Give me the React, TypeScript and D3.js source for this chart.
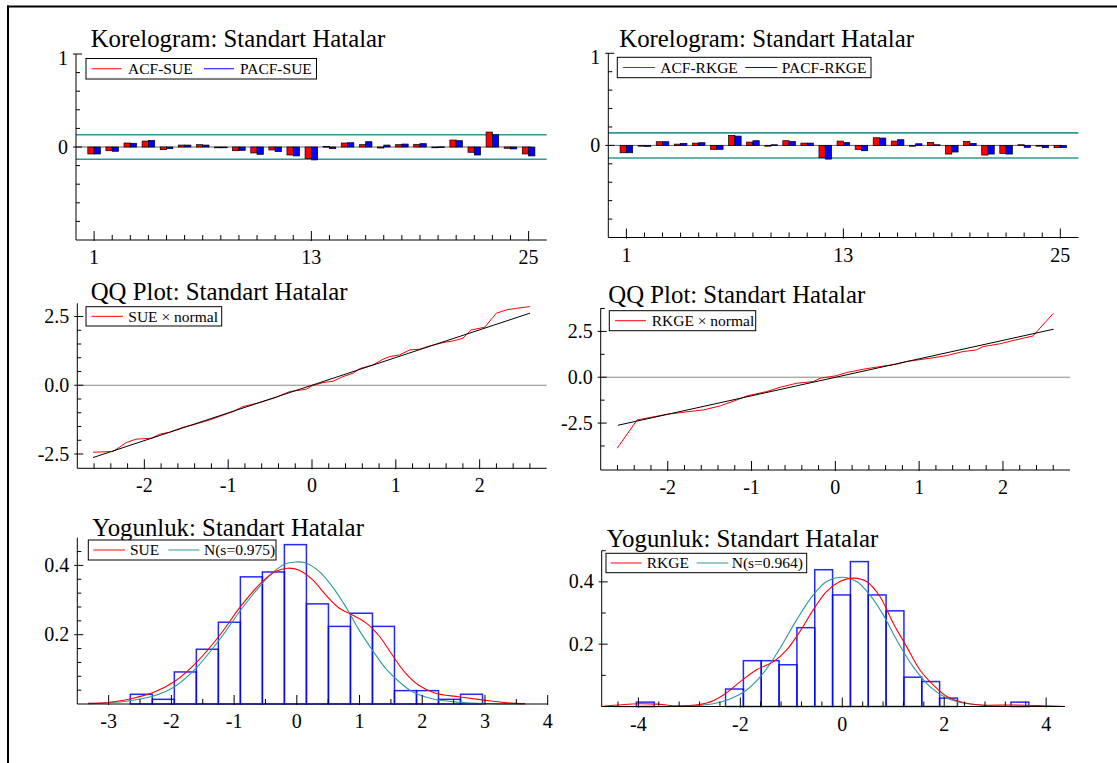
import React from "react";
import * as d3 from "d3";

// ---------- DATA ----------
const lags = [1, 2, 3, 4, 5, 6, 7, 8, 9, 10, 11, 12, 13, 14, 15, 16, 17, 18, 19, 20, 21, 22, 23, 24, 25];
const lagLabels = [1, 13, 25];

const acfSUE = [-0.075, -0.04, 0.043, 0.064, -0.029, 0.021, 0.025, -0.004, -0.04, -0.064, -0.032, -0.086, -0.125, 0.007, 0.043, 0.025, -0.011, 0.025, 0.029, 0.0, 0.075, -0.057, 0.161, -0.014, -0.075];
const pacfSUE = [-0.075, -0.046, 0.04, 0.071, -0.018, 0.021, 0.021, -0.004, -0.036, -0.079, -0.05, -0.096, -0.139, -0.018, 0.046, 0.057, 0.021, 0.032, 0.036, 0.002, 0.068, -0.086, 0.132, -0.021, -0.096];
const acfRKGE = [-0.08, -0.007, 0.04, 0.014, 0.025, -0.043, 0.109, 0.036, -0.007, 0.051, 0.025, -0.134, 0.047, -0.043, 0.083, 0.047, 0.0, 0.033, -0.094, 0.043, -0.105, -0.087, 0.007, -0.007, -0.025];
const pacfRKGE = [-0.08, -0.011, 0.04, 0.022, 0.029, -0.043, 0.101, 0.051, 0.007, 0.043, 0.025, -0.149, 0.033, -0.058, 0.08, 0.062, 0.018, 0.007, -0.072, 0.022, -0.094, -0.094, -0.022, -0.025, -0.025];
const bandSUE = 0.132;
const bandRKGE = 0.136;

const qqSUE: [number, number][] = [
  [-2.613, -2.436], [-2.375, -2.41], [-2.216, -2.085], [-2.1, -1.96], [-1.917, -1.927], [-1.818, -1.78],
  [-1.7, -1.71], [-1.54, -1.53], [-1.42, -1.44], [-1.22, -1.26], [-0.943, -0.958], [-0.823, -0.776],
  [-0.624, -0.63], [-0.426, -0.436], [-0.267, -0.23], [-0.068, -0.145], [0.0, -0.024], [0.131, 0.097],
  [0.25, 0.145], [0.37, 0.315], [0.489, 0.436], [0.569, 0.606], [0.728, 0.739], [0.847, 0.945],
  [0.927, 1.042], [1.046, 1.103], [1.165, 1.285], [1.285, 1.309], [1.404, 1.43], [1.563, 1.552],
  [1.683, 1.61], [1.8, 1.71], [1.9, 2.01], [2.06, 2.11], [2.2, 2.62], [2.32, 2.74], [2.44, 2.8], [2.6, 2.86],
];
const qqLineSUE: [number, number][] = [[-2.613, -2.63], [2.6, 2.62]];

const qqRKGE: [number, number][] = [
  [-2.603, -3.87], [-2.365, -2.33], [-2.008, -2.02], [-1.849, -1.93], [-1.571, -1.78], [-1.373, -1.56],
  [-1.175, -1.24], [-1.056, -1.02], [-0.817, -0.78], [-0.659, -0.545], [-0.46, -0.327], [-0.262, -0.236],
  [-0.183, -0.055], [0.0, 0.073], [0.135, 0.255], [0.333, 0.436], [0.532, 0.58], [0.73, 0.71],
  [0.849, 0.855], [1.127, 1.036], [1.325, 1.18], [1.524, 1.4], [1.683, 1.49], [1.762, 1.67],
  [1.96, 1.82], [2.119, 2.0], [2.357, 2.25], [2.603, 3.49],
];
const qqLineRKGE: [number, number][] = [[-2.595, -2.62], [2.604, 2.62]];

const histSUEStart = -2.655;
const histSUEWidth = 0.351;
const histSUE = [0.028, 0.0135, 0.0925, 0.158, 0.236, 0.367, 0.381, 0.46, 0.289, 0.224, 0.262, 0.224, 0.0386, 0.0386, 0.0135, 0.028];

const histRKGEStart = -4.04;
const histRKGEWidth = 0.35;
const histRKGE = [0.014, 0, 0, 0, 0, 0.056, 0.147, 0.147, 0.134, 0.253, 0.439, 0.358, 0.465, 0.358, 0.307, 0.094, 0.08, 0.027, 0, 0, 0, 0.014];

const densSUE: [number, number][] = [
  [-3.33, 0.002], [-2.98, 0.005], [-2.56, 0.019], [-2.29, 0.033], [-1.95, 0.065], [-1.61, 0.118],
  [-1.235, 0.197], [-0.89, 0.283], [-0.546, 0.354], [-0.334, 0.383], [-0.148, 0.392], [0.037, 0.386],
  [0.249, 0.359], [0.461, 0.315], [0.673, 0.277], [0.885, 0.257], [1.097, 0.235], [1.31, 0.197],
  [1.52, 0.142], [1.733, 0.089], [1.945, 0.054], [2.21, 0.031], [2.58, 0.021], [2.95, 0.012],
  [3.32, 0.004], [3.64, 0.001],
];
const normSUE: [number, number][] = [
  [-3.33, 0.001], [-2.72, 0.008], [-2.29, 0.023], [-1.95, 0.05], [-1.61, 0.103], [-1.235, 0.185],
  [-0.89, 0.272], [-0.546, 0.349], [-0.334, 0.387], [-0.175, 0.405], [-0.016, 0.41], [0.143, 0.407],
  [0.355, 0.383], [0.567, 0.339], [0.779, 0.281], [0.991, 0.214], [1.203, 0.156], [1.415, 0.103],
  [1.627, 0.065], [1.839, 0.036], [2.157, 0.015], [2.58, 0.005], [3.11, 0.001], [3.64, 0.0],
];

const densRKGE: [number, number][] = [
  [-4.72, 0.0], [-4.0, 0.0086], [-3.64, 0.0075], [-3.18, 0.002], [-2.66, 0.011], [-2.33, 0.037],
  [-2.0, 0.08], [-1.68, 0.118], [-1.35, 0.144], [-1.09, 0.182], [-0.83, 0.241], [-0.57, 0.31],
  [-0.31, 0.369], [-0.046, 0.401], [0.229, 0.412], [0.477, 0.401], [0.739, 0.353], [1.0, 0.267],
  [1.26, 0.193], [1.52, 0.118], [1.78, 0.07], [2.05, 0.032], [2.37, 0.013], [2.7, 0.005],
  [3.35, 0.005], [4.0, 0.002], [4.37, 0.0],
];
const normRKGE: [number, number][] = [
  [-4.72, 0.0], [-3.18, 0.001], [-2.53, 0.009], [-2.2, 0.024], [-1.876, 0.053], [-1.55, 0.107],
  [-1.22, 0.187], [-0.895, 0.278], [-0.569, 0.358], [-0.307, 0.401], [0.0, 0.415], [0.281, 0.401],
  [0.542, 0.358], [0.804, 0.294], [1.065, 0.214], [1.39, 0.128], [1.72, 0.064], [2.05, 0.027],
  [2.37, 0.011], [3.03, 0.002], [4.37, 0.0],
];

const corrYMajor = [1, 0];
const corrYMinor = [0.8, 0.6, 0.4, 0.2, -0.2, -0.4, -0.6, -0.8];
const qqXMajor = [-2, -1, 0, 1, 2];
const qqXMinor = [-2.6, -2.4, -2.2, -1.8, -1.6, -1.4, -1.2, -0.8, -0.6, -0.4, -0.2, 0.2, 0.4, 0.6, 0.8, 1.2, 1.4, 1.6, 1.8, 2.2, 2.4, 2.6];
const qqYMajor = [2.5, 0, -2.5];
const qqYMinorL = [2, 1.5, 1, 0.5, -0.5, -1, -1.5, -2];
const qqYMinorR = [3.75, 1.25, -1.25, -3.75];
const densLXMajor = [-3, -2, -1, 0, 1, 2, 3, 4];
const densLXMinor = [-2.5, -1.5, -0.5, 0.5, 1.5, 2.5, 3.5];
const densYMajor = [0.4, 0.2];
const densLYMinor = [0.04, 0.08, 0.12, 0.16, 0.24, 0.28, 0.32, 0.36, 0.44];
const densRXMajor = [-4, -2, 0, 2, 4];
const densRXMinor = [-4.4, -3.6, -3.2, -2.8, -2.4, -1.6, -1.2, -0.8, -0.4, 0.4, 0.8, 1.2, 1.6, 2.4, 2.8, 3.2, 3.6];
const densRYMinor = [0.1, 0.3, 0.5];

// ---------- STYLE ----------
const FONT = "Liberation Serif, Times New Roman, DejaVu Serif, serif";
const TEAL = "#2f9898";
const RED = "#ff0000";
const BLUE = "#0000ff";

type Sc = d3.ScaleLinear<number, number>;

function fmt1(v: number) {
  return v.toFixed(1);
}

function T(props: { x: number; y: number; size: number; anchor?: string; children: React.ReactNode }) {
  return (
    <text x={props.x} y={props.y} textAnchor={props.anchor || "start"}
      style={{ fontFamily: FONT, fontSize: props.size + "px" }} fill="#000">
      {props.children}
    </text>
  );
}

function Axes(props: {
  xs: Sc; ys: Sc; x0: number; x1: number; yTop: number; yBot: number;
  xMajor: number[]; xMinor: number[]; yMajor: number[]; yMinor: number[];
  xFmt: (v: number) => string; yFmt: (v: number) => string; labelMinY?: number;
}) {
  const { xs, ys, x0, x1, yTop, yBot, xMajor, xMinor, yMajor, yMinor, xFmt, yFmt } = props;
  const minY = props.labelMinY ?? -1e9;
  return (
    <g>
      <line x1={x0} x2={x0} y1={yTop} y2={yBot} stroke="#000" strokeWidth={1} />
      <line x1={x0} x2={x1} y1={yBot} y2={yBot} stroke="#000" strokeWidth={1} />
      {yMinor.map((v, i) => (
        <line key={"ym" + i} x1={x0} x2={x0 + 4} y1={ys(v)} y2={ys(v)} stroke="#000" />
      ))}
      {yMajor.map((v, i) => (
        <g key={"yM" + i}>
          <line x1={x0 - 3} x2={x0 + 6} y1={ys(v)} y2={ys(v)} stroke="#000" />
          <T x={x0 - 8} y={Math.max(ys(v), minY) + 6.5} size={20} anchor="end">{yFmt(v)}</T>
        </g>
      ))}
      {xMinor.map((v, i) => (
        <line key={"xm" + i} x1={xs(v)} x2={xs(v)} y1={yBot} y2={yBot - 5} stroke="#000" />
      ))}
      {xMajor.map((v, i) => (
        <g key={"xM" + i}>
          <line x1={xs(v)} x2={xs(v)} y1={yBot + 1} y2={yBot - 9} stroke="#000" />
          <T x={xs(v)} y={yBot + 24} size={20} anchor="middle">{xFmt(v)}</T>
        </g>
      ))}
    </g>
  );
}

function Title({ x, y, text }: { x: number; y: number; text: string }) {
  return <T x={x} y={y} size={24.8}>{text}</T>;
}

function Legend(props: {
  x: number; y: number; w: number; h: number;
  items: { color: string; lx: number; lw: number; tx: number; label: string }[];
}) {
  const { x, y, w, h, items } = props;
  const cy = y + h / 2;
  return (
    <g>
      <rect x={x} y={y} width={w} height={h} fill="#fff" stroke="#000" strokeWidth={1} />
      {items.map((it, i) => (
        <g key={i}>
          <line x1={x + it.lx} x2={x + it.lx + it.lw} y1={cy} y2={cy} stroke={it.color} strokeWidth={1} />
          <T x={x + it.tx} y={cy + 5.3} size={15.5}>{it.label}</T>
        </g>
      ))}
    </g>
  );
}

function Correlogram(props: {
  x0: number; x1: number; yTop: number; yBot: number; acf: number[]; pacf: number[]; band: number;
  titleX: number; titleY: number; legend: React.ReactNode;
}) {
  const { x0, x1, yTop, yBot, acf, pacf, band } = props;
  const xs = d3.scaleLinear().domain([0, 26]).range([x0, x1]);
  const ys = d3.scaleLinear().domain([-1, 1]).range([yBot, yTop]);
  const bw = 6.3;
  return (
    <g>
      <Title x={props.titleX} y={props.titleY} text="Korelogram: Standart Hatalar" />
      <line x1={x0} x2={x1} y1={ys(band)} y2={ys(band)} stroke={TEAL} strokeWidth={1.6} />
      <line x1={x0} x2={x1} y1={ys(-band)} y2={ys(-band)} stroke={TEAL} strokeWidth={1.6} />
      <line x1={x0} x2={x1 - 16} y1={ys(0)} y2={ys(0)} stroke="#000" strokeWidth={0.6} />
      {lags.map((l, i) => {
        const a = acf[i];
        const p = pacf[i];
        return (
          <g key={l}>
            <rect x={xs(l) - bw} width={bw} y={Math.min(ys(a), ys(0))} height={Math.max(Math.abs(ys(a) - ys(0)), 0.8)}
              fill={RED} stroke="#000" strokeWidth={0.7} />
            <rect x={xs(l)} width={bw} y={Math.min(ys(p), ys(0))} height={Math.max(Math.abs(ys(p) - ys(0)), 0.8)}
              fill={BLUE} stroke="#000" strokeWidth={0.7} />
          </g>
        );
      })}
      <Axes xs={xs} ys={ys} x0={x0} x1={x1} yTop={yTop} yBot={yBot}
        xMajor={lagLabels} xMinor={lags.filter((l) => !lagLabels.includes(l))}
        yMajor={corrYMajor} yMinor={corrYMinor}
        xFmt={(v) => String(v)} yFmt={(v) => String(v)} labelMinY={yTop + 4} />
      {props.legend}
    </g>
  );
}

function QQ(props: {
  x0: number; x1: number; yTop: number; yBot: number; yDom: [number, number];
  pts: [number, number][]; refLine: [number, number][]; yMinor: number[];
  titleX: number; titleY: number; legend: React.ReactNode;
}) {
  const { x0, x1, yTop, yBot } = props;
  const xs = d3.scaleLinear().domain([-2.8, 2.8]).range([x0, x1]);
  const ys = d3.scaleLinear().domain(props.yDom).range([yBot, yTop]);
  const line = d3.line<[number, number]>().x((d) => xs(d[0])).y((d) => ys(d[1]));
  return (
    <g>
      <Title x={props.titleX} y={props.titleY} text="QQ Plot: Standart Hatalar" />
      <line x1={x0} x2={x1} y1={ys(0)} y2={ys(0)} stroke="#888" strokeWidth={1} />
      <path d={line(props.pts) || ""} fill="none" stroke={RED} strokeWidth={1} />
      <path d={line(props.refLine) || ""} fill="none" stroke="#000" strokeWidth={1} />
      <Axes xs={xs} ys={ys} x0={x0} x1={x1} yTop={yTop} yBot={yBot}
        xMajor={qqXMajor} xMinor={qqXMinor} yMajor={qqYMajor} yMinor={props.yMinor}
        xFmt={(v) => String(v)} yFmt={fmt1} />
      {props.legend}
    </g>
  );
}

function Density(props: {
  x0: number; x1: number; yTop: number; yBot: number; xDom: [number, number]; yDom: [number, number];
  hist: number[]; hStart: number; hWidth: number; dens: [number, number][]; norm: [number, number][];
  xMajor: number[]; xMinor: number[]; yMinor: number[];
  titleX: number; titleY: number; legend: React.ReactNode;
}) {
  const { x0, x1, yTop, yBot } = props;
  const xs = d3.scaleLinear().domain(props.xDom).range([x0, x1]);
  const ys = d3.scaleLinear().domain(props.yDom).range([yBot, yTop]);
  const line = d3.line<[number, number]>().x((d) => xs(d[0])).y((d) => ys(d[1])).curve(d3.curveCatmullRom.alpha(0.5));
  return (
    <g>
      <Title x={props.titleX} y={props.titleY} text="Yogunluk: Standart Hatalar" />
      {props.hist.map((h, i) => {
        if (h <= 0) return null;
        const a = props.hStart + i * props.hWidth;
        const b = a + props.hWidth;
        return (
          <rect key={i} x={xs(a)} width={xs(b) - xs(a)} y={ys(h)} height={ys(0) - ys(h)}
            fill="none" stroke={BLUE} strokeWidth={1.5} strokeOpacity={0.85} />
        );
      })}
      <path d={line(props.norm) || ""} fill="none" stroke={TEAL} strokeWidth={1.1} />
      <path d={line(props.dens) || ""} fill="none" stroke={RED} strokeWidth={1.1} />
      <Axes xs={xs} ys={ys} x0={x0} x1={x1} yTop={yTop} yBot={yBot}
        xMajor={props.xMajor} xMinor={props.xMinor} yMajor={densYMajor} yMinor={props.yMinor}
        xFmt={(v) => String(v)} yFmt={fmt1} />
      {props.legend}
    </g>
  );
}

export default function App() {
  return (
    <div style={{ position: "fixed", left: 0, top: 0, width: 1117, height: 763, background: "#fff" }}>
      <svg width={1117} height={763} viewBox="0 0 1117 763" style={{ display: "block" }}>
        <rect x={0} y={0} width={1117} height={763} fill="#fff" />
        <line x1={7} x2={1117} y1={6.5} y2={6.5} stroke="#000" strokeWidth={2} />
        <line x1={8} x2={8} y1={5.5} y2={763} stroke="#000" strokeWidth={2} />

        <Correlogram x0={76} x1={546.7} yTop={54} yBot={240} acf={acfSUE} pacf={pacfSUE} band={bandSUE}
          titleX={90.7} titleY={47}
          legend={<Legend x={86} y={58.5} w={230.5} h={20.5} items={[
            { color: RED, lx: 5.5, lw: 30, tx: 42, label: "ACF-SUE" },
            { color: BLUE, lx: 118, lw: 30, tx: 154, label: "PACF-SUE" },
          ]} />} />
        <Correlogram x0={608.3} x1={1078.4} yTop={53.3} yBot={237.5} acf={acfRKGE} pacf={pacfRKGE} band={bandRKGE}
          titleX={619.3} titleY={47}
          legend={<Legend x={617.3} y={57.3} w={253.7} h={20.4} items={[
            { color: RED, lx: 5.5, lw: 32, tx: 43, label: "ACF-RKGE" },
            { color: BLUE, lx: 128, lw: 32, tx: 164.5, label: "PACF-RKGE" },
          ]} />} />

        <QQ x0={77.3} x1={546.7} yTop={303.3} yBot={468.3} yDom={[-3.02, 2.98]} pts={qqSUE} refLine={qqLineSUE}
          yMinor={qqYMinorL} titleX={90.7} titleY={300}
          legend={<Legend x={86} y={306.7} w={135.7} h={19.3} items={[
            { color: RED, lx: 5.5, lw: 31.5, tx: 42.3, label: "SUE × normal" },
          ]} />} />
        <QQ x0={600.7} x1={1070} yTop={308.3} yBot={470} yDom={[-5.06, 3.76]} pts={qqRKGE} refLine={qqLineRKGE}
          yMinor={qqYMinorR} titleX={608.3} titleY={303.3}
          legend={<Legend x={609.3} y={310.7} w={146.4} h={20} items={[
            { color: RED, lx: 5.7, lw: 31, tx: 42.4, label: "RKGE × normal" },
          ]} />} />

        <Density x0={77.3} x1={547.7} yTop={537.7} yBot={704} xDom={[-3.5, 4]} yDom={[0, 0.48]}
          hist={histSUE} hStart={histSUEStart} hWidth={histSUEWidth} dens={densSUE} norm={normSUE}
          xMajor={densLXMajor} xMinor={densLXMinor} yMinor={densLYMinor}
          titleX={92.3} titleY={536}
          legend={<Legend x={88.3} y={540} w={187.7} h={20} items={[
            { color: RED, lx: 5, lw: 31.7, tx: 41.7, label: "SUE" },
            { color: TEAL, lx: 80, lw: 31, tx: 115.7, label: "N(s=0.975)" },
          ]} />} />
        <Density x0={601.7} x1={1065} yTop={550.7} yBot={706.5} xDom={[-4.72, 4.37]} yDom={[0, 0.5]}
          hist={histRKGE} hStart={histRKGEStart} hWidth={histRKGEWidth} dens={densRKGE} norm={normRKGE}
          xMajor={densRXMajor} xMinor={densRXMinor} yMinor={densRYMinor}
          titleX={606.7} titleY={546.7}
          legend={<Legend x={606} y={553.3} w={200.7} h={19.4} items={[
            { color: RED, lx: 4.7, lw: 31, tx: 40.7, label: "RKGE" },
            { color: TEAL, lx: 90.7, lw: 31.6, tx: 125.7, label: "N(s=0.964)" },
          ]} />} />
      </svg>
    </div>
  );
}
